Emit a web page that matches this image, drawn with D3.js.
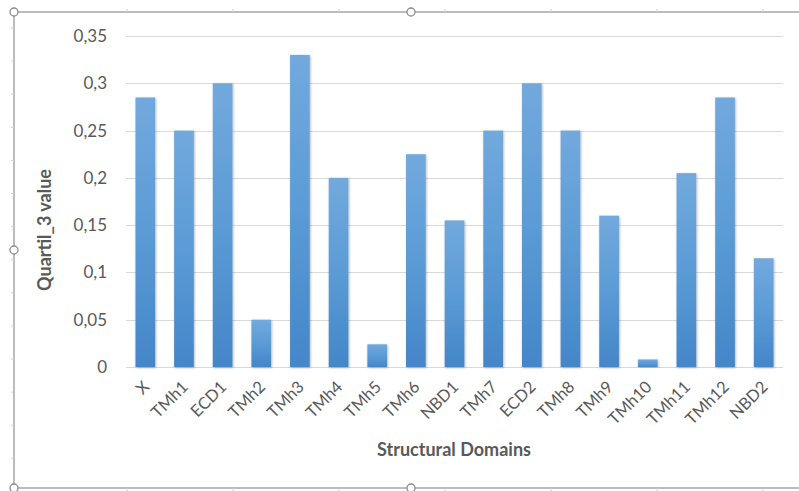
<!DOCTYPE html>
<html><head><meta charset="utf-8">
<script src="https://cdn.jsdelivr.net/npm/d3@7"></script>
<style>body{margin:0;background:#fff}svg{display:block}</style>
</head><body>
<script>
const categories = ["X","TMh1","ECD1","TMh2","TMh3","TMh4","TMh5","TMh6","NBD1","TMh7","ECD2","TMh8","TMh9","TMh10","TMh11","TMh12","NBD2"];
const values = [0.285,0.25,0.30,0.05,0.33,0.20,0.024,0.225,0.155,0.25,0.30,0.25,0.16,0.008,0.205,0.285,0.115];
const yTicks = [0,0.05,0.1,0.15,0.2,0.25,0.3,0.35];
const yTickLabels = ["0","0,05","0,1","0,15","0,2","0,25","0,3","0,35"];
const yTitle = "Quartil_3 value";
const xTitle = "Structural Domains";

const W = 799, H = 491;
const svg = d3.select("body").append("svg").attr("width", W).attr("height", H);
const FONT = "Lato, 'Open Sans', sans-serif";

const defs = svg.append("defs");
const grad = defs.append("linearGradient").attr("id","barGrad").attr("x1",0).attr("y1",0).attr("x2",0).attr("y2",1);
grad.append("stop").attr("offset","0%").attr("stop-color","#72a9dd");
grad.append("stop").attr("offset","50%").attr("stop-color","#5b9bd5");
grad.append("stop").attr("offset","100%").attr("stop-color","#4486c9");
const f = defs.append("filter").attr("id","shadow").attr("x","-30%").attr("y","-10%").attr("width","160%").attr("height","120%");
f.append("feDropShadow").attr("dx",0.8).attr("dy",0.8).attr("stdDeviation",1.2).attr("flood-color","#000").attr("flood-opacity",0.3);

// selection frame
const frame = svg.append("g");
const fx0 = 14, fy0 = 12, fy1 = 488;
frame.append("line").attr("x1",fx0).attr("x2",W).attr("y1",fy0).attr("y2",fy0).attr("stroke","#a6a6a6").attr("stroke-width",1.5);
frame.append("line").attr("x1",fx0).attr("x2",W).attr("y1",fy1).attr("y2",fy1).attr("stroke","#a6a6a6").attr("stroke-width",1.5);
frame.append("line").attr("x1",fx0).attr("x2",fx0).attr("y1",fy0).attr("y2",fy1).attr("stroke","#a6a6a6").attr("stroke-width",1.5);
for (let x = 127; x < W; x += 106) {
  frame.append("line").attr("x1",x).attr("x2",x).attr("y1",fy0-3).attr("y2",fy0).attr("stroke","#d0d0d0");
  frame.append("line").attr("x1",x).attr("x2",x).attr("y1",fy1).attr("y2",fy1+3).attr("stroke","#d0d0d0");
}
for (let y = 28; y < fy1; y += 33.1) {
  frame.append("line").attr("x1",fx0-3).attr("x2",fx0).attr("y1",y).attr("y2",y).attr("stroke","#d0d0d0");
}
[[fx0,fy0],[411,fy0],[fx0,250],[fx0,fy1],[411,fy1]].forEach(([cx,cy])=>{
  frame.append("circle").attr("cx",cx).attr("cy",cy).attr("r",4).attr("fill","#fff").attr("stroke","#8c8c8c").attr("stroke-width",1.3);
});

const x0 = 126, x1 = 783, yTop = 36, yBot = 367;
const x = d3.scaleBand().domain(categories).range([x0, x1]).paddingInner(0.49).paddingOuter(0.245);
const y = d3.scaleLinear().domain([0, 0.35]).range([yBot, yTop]);

// gridlines
svg.append("g").selectAll("line").data(yTicks).join("line")
  .attr("x1", x0).attr("x2", x1)
  .attr("y1", d => Math.round(y(d)) + 0.5).attr("y2", d => Math.round(y(d)) + 0.5)
  .attr("stroke", "#d9d9d9").attr("stroke-width", 1.2);

// y axis labels
const yAxis = d3.axisLeft(y).tickValues(yTicks).tickFormat((d,i)=>yTickLabels[i]).tickSize(0).tickPadding(0);
const ya = svg.append("g").attr("transform", `translate(107,0)`).call(yAxis);
ya.select(".domain").remove();
ya.selectAll("text").attr("font-family", FONT).attr("font-size", 17).attr("fill", "#595959");

// bars
svg.append("g").selectAll("rect").data(values).join("rect")
  .attr("x", (d,i) => x(categories[i]))
  .attr("width", x.bandwidth())
  .attr("y", d => y(d))
  .attr("height", d => y(0) - y(d))
  .attr("fill", "url(#barGrad)")
  .attr("filter", "url(#shadow)");

// x axis labels
const xAxis = d3.axisBottom(x).tickSize(0).tickPadding(0);
const xa = svg.append("g").attr("transform", `translate(0,${yBot})`).call(xAxis);
xa.select(".domain").remove();
xa.selectAll("text")
  .attr("font-family", FONT).attr("font-size", 16.5).attr("fill", "#595959")
  .attr("text-anchor", "end")
  .attr("dy", null)
  .attr("transform", "translate(5,21) rotate(-45)");

// titles
svg.append("text").attr("x", 454).attr("y", 456).attr("text-anchor","middle")
  .attr("font-family", FONT).attr("font-size", 18).attr("font-weight","bold").attr("fill","#595959").text(xTitle);
svg.append("text").attr("transform","translate(51,230) rotate(-90)").attr("text-anchor","middle")
  .attr("font-family", FONT).attr("font-size", 18).attr("font-weight","bold").attr("fill","#595959").text(yTitle);
</script>
</body></html>
